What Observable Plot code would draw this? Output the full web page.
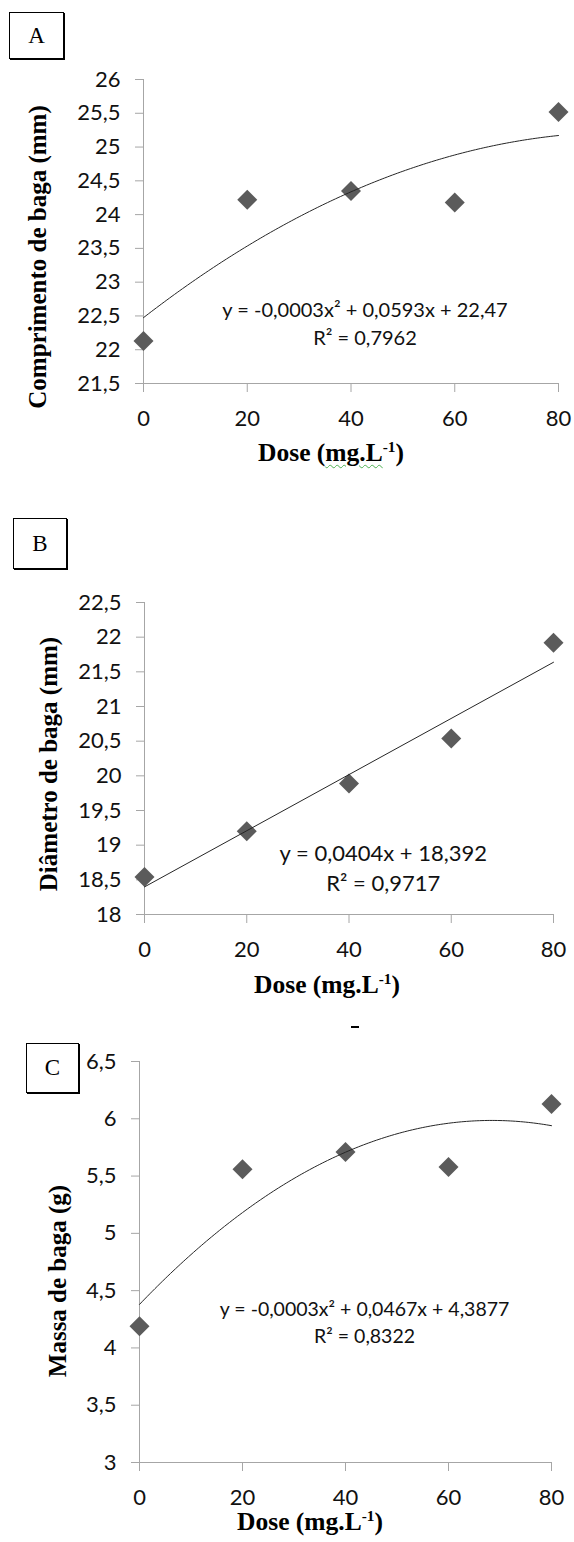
<!DOCTYPE html>
<html><head><meta charset="utf-8">
<script src="https://cdn.jsdelivr.net/npm/d3@7"></script>
<script src="https://cdn.jsdelivr.net/npm/@observablehq/plot@0.6"></script>
<style>
html,body{margin:0;padding:0;background:#fff}
body{width:574px;height:1542px;position:relative;overflow:hidden}
.panel{position:absolute;left:0}
.box{position:absolute;box-sizing:border-box;border:1px solid #000;box-shadow:1px 1px 0 #000;font-family:"Liberation Serif",serif;font-size:23px;display:flex;align-items:center;justify-content:center;background:#fff;color:#000}
.ytitle{position:absolute;font-family:"Liberation Serif",serif;font-weight:bold;font-size:25px;line-height:1;white-space:nowrap;transform:translate(-50%,-50%) rotate(-90deg);color:#000}
.xtitle{position:absolute;font-family:"Liberation Serif",serif;font-weight:bold;font-size:25.5px;line-height:1;white-space:nowrap;transform:translate(-50%,-50%);color:#000}
sup{font-size:0.6em;vertical-align:0.6em;line-height:0}
.spell{text-decoration:underline wavy #4caf50;text-decoration-thickness:1px;text-underline-offset:3px}
.dash{position:absolute;left:351px;top:1026px;width:8px;height:2px;background:#000}
</style></head><body>
<div id="pA" class="panel" style="top:0px"></div>
<div id="pB" class="panel" style="top:480px"></div>
<div id="pC" class="panel" style="top:1000px"></div>

<div class="box" style="left:9px;top:12px;width:55px;height:47px">A</div>
<div class="box" style="left:13px;top:518px;width:54px;height:51px">B</div>
<div class="box" style="left:26px;top:1043px;width:53px;height:50px">C</div>

<div class="ytitle" style="left:37px;top:257px">Comprimento de baga (mm)</div>
<div class="ytitle" style="left:48px;top:764px">Diâmetro de baga (mm)</div>
<div class="ytitle" style="left:57px;top:1281px">Massa de baga (g)</div>

<div class="xtitle" style="left:331px;top:453px">Dose (<span class="spell">mg.L</span><sup>-1</sup>)</div>
<div class="xtitle" style="left:327px;top:985px">Dose (mg.L<sup>-1</sup>)</div>
<div class="xtitle" style="left:310px;top:1522px">Dose (mg.L<sup>-1</sup>)</div>
<div class="dash"></div>

<script>
// ---- data ----
const doses = [0, 20, 40, 60, 80];
const comprimento = [22.13, 24.22, 24.35, 24.18, 25.52];
const diametro = [18.54, 19.20, 19.89, 20.54, 21.92];
const massa = [4.19, 5.56, 5.71, 5.58, 6.13];

const xTicks = [0, 20, 40, 60, 80];
const yTicksA = [21.5, 22, 22.5, 23, 23.5, 24, 24.5, 25, 25.5, 26];
const yTicksB = [18, 18.5, 19, 19.5, 20, 20.5, 21, 21.5, 22, 22.5];
const yTicksC = [3, 3.5, 4, 4.5, 5, 5.5, 6, 6.5];

const eqA = "y = -0,0003x² + 0,0593x + 22,47\nR² = 0,7962";
const eqB = "y = 0,0404x + 18,392\nR² = 0,9717";
const eqC = "y = -0,0003x² + 0,0467x + 4,3877\nR² = 0,8322";

// ---- quadratic least squares from the data ----
function quadFit(xs, ys) {
  const S = [0,0,0,0,0], T = [0,0,0];
  xs.forEach((x, i) => {
    for (let k = 0; k < 5; k++) S[k] += Math.pow(x, k);
    for (let k = 0; k < 3; k++) T[k] += ys[i] * Math.pow(x, k);
  });
  const M = [[S[0],S[1],S[2],T[0]],[S[1],S[2],S[3],T[1]],[S[2],S[3],S[4],T[2]]];
  for (let i = 0; i < 3; i++) {
    for (let j = i + 1; j < 3; j++) {
      const f = M[j][i] / M[i][i];
      for (let k = i; k < 4; k++) M[j][k] -= f * M[i][k];
    }
  }
  const c = [0,0,0];
  for (let i = 2; i >= 0; i--) {
    let s = M[i][3];
    for (let k = i + 1; k < 3; k++) s -= M[i][k] * c[k];
    c[i] = s / M[i][i];
  }
  return x => c[0] + c[1] * x + c[2] * x * x;
}

const fmt = d => String(d).replace(".", ",");
const axisGray = "#a6a6a6";

function panel({values, yTicks, eq, eqX, eqY, eqSize, height, mt, mb, ml, mr, quad}) {
  const data = doses.map((d, i) => ({x: d, y: values[i]}));
  let trend;
  if (quad) {
    const f = quadFit(doses, values);
    const xs = d3.range(0, 80.25, 0.5);
    trend = Plot.line(xs.map(x => ({x, y: f(x)})), {x: "x", y: "y", stroke: "#262626", strokeWidth: 1});
  } else {
    trend = Plot.linearRegressionY(data, {x: "x", y: "y", stroke: "#262626", strokeWidth: 1, ci: 0});
  }
  const ymin = yTicks[0], ymax = yTicks[yTicks.length - 1];
  return Plot.plot({
    width: 574, height,
    marginTop: mt, marginBottom: mb, marginLeft: ml, marginRight: mr,
    x: {domain: [0, 80]},
    y: {domain: [ymin, ymax]},
    style: {fontFamily: "Lato", fontSize: "22px", color: "#111", background: "transparent", overflow: "visible"},
    marks: [
      Plot.ruleX([0], {stroke: axisGray}),
      Plot.ruleY([ymin], {stroke: axisGray}),
      Plot.axisY({ticks: yTicks, tickSize: 8, tickFormat: () => "", stroke: axisGray, label: null}),
      Plot.axisX({ticks: xTicks, tickSize: 9, tickFormat: () => "", stroke: axisGray, label: null}),
      // tick labels
      Plot.text(yTicks, {x: () => 0, y: d => d, text: fmt, textAnchor: "end", dx: -23, fontSize: 22, fill: "#111", fontFamily: "Lato"}),
      Plot.text(xTicks, {x: d => d, y: () => ymin, text: d => String(d), dy: 35, fontSize: 22, fill: "#111", fontFamily: "Lato"}),
      Plot.dot(data, {x: "x", y: "y", symbol: "diamond2", r: 9, fill: "#5b5b5b", stroke: "none"}),
      trend,
      Plot.text([eq], {x: () => eqX, y: () => eqY, text: d => d, fontSize: eqSize, lineHeight: 1.4, fill: "#111", textAnchor: "middle", fontFamily: "Lato"})
    ]
  });
}

document.getElementById("pA").append(panel({
  values: comprimento, yTicks: yTicksA, eq: eqA, eqX: 42.7, eqY: 22.416, eqSize: 20,
  height: 480, mt: 79, mb: 97, ml: 143, mr: 16, quad: true
}));
document.getElementById("pB").append(panel({
  values: diametro, yTicks: yTicksB, eq: eqB, eqX: 46.7, eqY: 18.697, eqSize: 22,
  height: 520, mt: 122, mb: 86, ml: 144, mr: 21, quad: false
}));
document.getElementById("pC").append(panel({
  values: massa, yTicks: yTicksC, eq: eqC, eqX: 43.7, eqY: 4.24, eqSize: 19.5,
  height: 542, mt: 61, mb: 80, ml: 139, mr: 23, quad: true
}));
</script>
</body></html>
